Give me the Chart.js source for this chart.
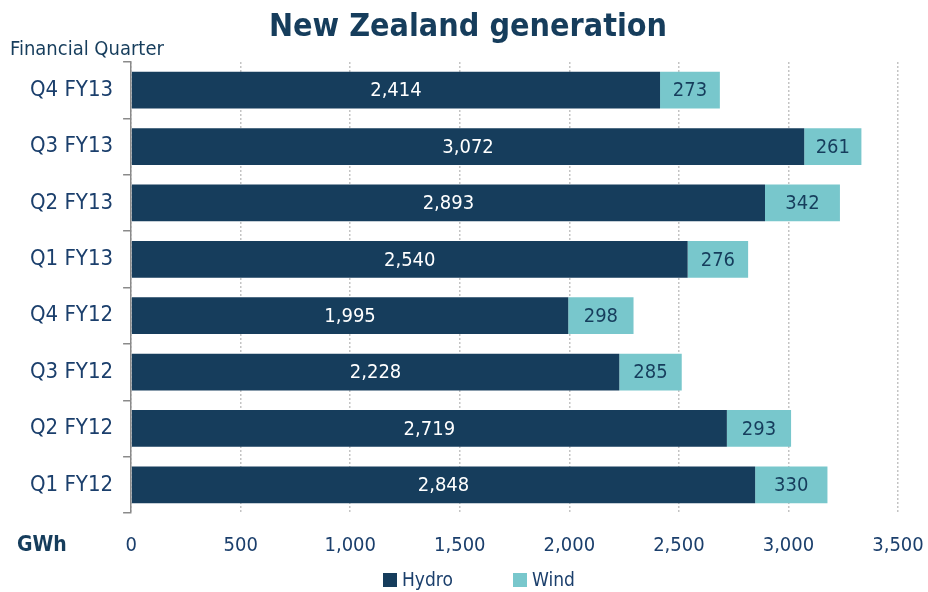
<!DOCTYPE html>
<html>
<head>
<meta charset="utf-8">
<script src="https://cdn.jsdelivr.net/npm/chart.js@4.4.0/dist/chart.umd.min.js"></script>
<style>
  html, body { margin: 0; padding: 0; background: #fff; }
  #wrap { width: 928px; height: 592px; }
</style>
</head>
<body>
<div id="wrap"><canvas id="mycanvas" width="928" height="592"></canvas></div>
<script>
var quarters = ["Q4 FY13", "Q3 FY13", "Q2 FY13", "Q1 FY13", "Q4 FY12", "Q3 FY12", "Q2 FY12", "Q1 FY12"];
var hydro = [2414, 3072, 2893, 2540, 1995, 2228, 2719, 2848];
var wind = [273, 261, 342, 276, 298, 285, 293, 330];
var xTicks = [0, 500, 1000, 1500, 2000, 2500, 3000, 3500];

var FONT = '"Liberation Sans Narrow", "DejaVu Sans Condensed", "Roboto Condensed", Roboto, sans-serif';
var NAVY = "#163d5c";
var TEXT = "#1b3f6c";

// values written inside each bar segment
var barLabels = {
	id: "barLabels",
	afterDatasetsDraw: function(chart) {
		var ctx = chart.ctx;
		ctx.save();
		ctx.font = "20px " + FONT;
		ctx.textAlign = "center";
		ctx.textBaseline = "middle";
		chart.data.datasets.forEach(function(ds, i) {
			var meta = chart.getDatasetMeta(i);
			meta.data.forEach(function(bar, j) {
				var p = bar.getProps(["x", "y", "base"], true);
				ctx.fillStyle = i === 0 ? "#ffffff" : NAVY;
				ctx.fillText(ds.data[j].toLocaleString("en-US"), (p.x + p.base) / 2, p.y + 1);
			});
		});
		ctx.restore();
	}
};

// title, axis captions and the legend
var extraText = {
	id: "extraText",
	afterDraw: function(chart) {
		var ctx = chart.ctx;
		var area = chart.chartArea;
		ctx.save();
		ctx.textBaseline = "middle";
		ctx.fillStyle = NAVY;

		ctx.textAlign = "center";
		ctx.font = "bold 32px " + FONT;
		ctx.fillText("New Zealand generation", 468, 28);

		ctx.textAlign = "left";
		ctx.font = "20px " + FONT;
		ctx.fillText("Financial Quarter", 10, area.top - 12);

		ctx.font = "bold 21px " + FONT;
		ctx.fillText("GWh", 17, area.bottom + 33);

		var items = [
			{ text: "Hydro", color: chart.data.datasets[0].backgroundColor, x: 383 },
			{ text: "Wind", color: chart.data.datasets[1].backgroundColor, x: 513 }
		];
		var ly = 580;
		ctx.font = "19px " + FONT;
		items.forEach(function(it) {
			ctx.fillStyle = it.color;
			ctx.fillRect(it.x, ly - 7, 14, 14);
			ctx.fillStyle = TEXT;
			ctx.fillText(it.text, it.x + 19, ly + 1);
		});
		ctx.restore();
	}
};

var chartdata = {
	labels: quarters,
	datasets: [
		{
			label: "Hydro",
			data: hydro,
			backgroundColor: "#163d5c",
			borderWidth: 0,
			barPercentage: 0.65,
			categoryPercentage: 1
		},
		{
			label: "Wind",
			data: wind,
			backgroundColor: "#78c7cc",
			borderWidth: 0,
			barPercentage: 0.65,
			categoryPercentage: 1
		}
	]
};

var ctx = document.getElementById("mycanvas");

var BarGraph = new Chart(ctx, {
	type: "bar",
	data: chartdata,
	plugins: [barLabels, extraText],
	options: {
		responsive: false,
		animation: false,
		indexAxis: "y",
		layout: { padding: { left: 20, right: 30, top: 62, bottom: 13 } },
		scales: {
			x: {
				stacked: true,
				min: 0,
				max: 3500,
				afterBuildTicks: function(axis) {
					axis.ticks = xTicks.map(function(v) { return { value: v }; });
				},
				afterFit: function(axis) {
					axis.paddingRight = 0;
					axis.paddingLeft = 0;
				},
				border: { display: false, dash: [2, 2] },
				grid: {
					color: "#c4c4c4",
					lineWidth: 1.5,
					drawTicks: false
				},
				ticks: {
					color: TEXT,
					padding: 21,
					maxRotation: 0,
					font: { family: FONT, size: 20 },
					callback: function(v) { return Number(v).toLocaleString("en-US"); }
				}
			},
			y: {
				stacked: true,
				afterFit: function(axis) {
					axis.paddingTop = 0;
					axis.paddingBottom = 0;
				},
				border: { display: true, color: "#8a8a8a", width: 1.5 },
				grid: {
					drawOnChartArea: false,
					drawTicks: true,
					tickLength: 8,
					color: "#8a8a8a",
					lineWidth: 1.5
				},
				ticks: {
					color: TEXT,
					padding: 10,
					font: { family: FONT, size: 22 }
				}
			}
		},
		plugins: {
			title: { display: false },
			legend: { display: false },
			tooltip: { enabled: false }
		}
	}
});
</script>
</body>
</html>
